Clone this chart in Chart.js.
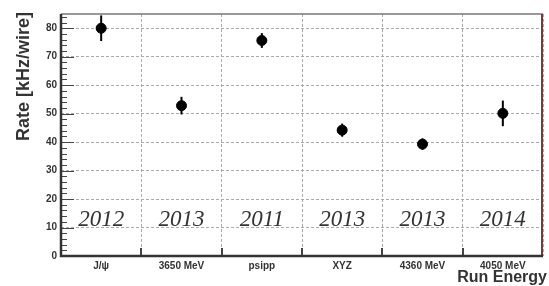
<!DOCTYPE html>
<html>
<head>
<meta charset="utf-8">
<script src="https://cdn.jsdelivr.net/npm/chart.js@4.4.0/dist/chart.umd.min.js"></script>
<style>
  html, body { margin: 0; padding: 0; background: #fff; }
  canvas { display: block; }
</style>
</head>
<body>
<canvas id="rateChart" width="549" height="286"></canvas>
<script>
// Run energies and measured rates
const runLabels = ['J/\u03c8', '3650 MeV', 'psipp', 'XYZ', '4360 MeV', '4050 MeV'];
const runYears = ['2012', '2013', '2011', '2013', '2013', '2014'];
const rates = [80, 52.8, 75.7, 44.2, 39.3, 50.1];
const rateErrors = [4.5, 3.1, 2.6, 2.3, 2.0, 4.5];
const yTicks = [0, 10, 20, 30, 40, 50, 60, 70, 80];

const TEXT = '#333';

// Frame, ROOT-style ticks, error bars and year labels
const rootStyle = {
    id: 'rootStyle',
    beforeDatasetsDraw(chart) {
        const { ctx, chartArea: a, scales: { x, y } } = chart;
        ctx.save();
        // error bars
        ctx.strokeStyle = '#000';
        ctx.lineWidth = 2;
        rates.forEach((v, i) => {
            const px = x.getPixelForValue(i);
            ctx.beginPath();
            ctx.moveTo(px, y.getPixelForValue(v - rateErrors[i]));
            ctx.lineTo(px, y.getPixelForValue(v + rateErrors[i]));
            ctx.stroke();
        });
        // year labels
        ctx.fillStyle = '#333';
        ctx.font = 'italic 23px "Liberation Serif", "DejaVu Serif", serif';
        ctx.textAlign = 'center';
        ctx.textBaseline = 'middle';
        runYears.forEach((yr, i) => {
            ctx.fillText(yr, x.getPixelForValue(i), y.getPixelForValue(12.8));
        });
        ctx.restore();
    },
    afterDraw(chart) {
        const { ctx, chartArea: a, scales: { x, y } } = chart;
        ctx.save();
        // y ticks, inside the frame
        ctx.strokeStyle = '#444';
        ctx.lineWidth = 1;
        for (let v = 0; v <= y.max; v += 2) {
            const py = Math.round(y.getPixelForValue(v)) + 0.5;
            const len = v % 10 === 0 ? 13 : 6;
            ctx.beginPath();
            ctx.moveTo(a.left, py);
            ctx.lineTo(a.left + len, py);
            ctx.stroke();
        }
        // x ticks at category edges
        ctx.lineWidth = 2;
        for (let i = 1; i < runLabels.length; i++) {
            const px = Math.round(x.getPixelForValue(i - 0.5));
            ctx.beginPath();
            ctx.moveTo(px, a.bottom);
            ctx.lineTo(px, a.bottom - 8);
            ctx.stroke();
        }
        // frame
        ctx.strokeStyle = '#777';
        ctx.lineWidth = 1.5;
        ctx.beginPath();
        ctx.moveTo(a.left, a.top);
        ctx.lineTo(a.right, a.top);
        ctx.stroke();
        ctx.strokeStyle = '#7a3a3a';
        ctx.lineWidth = 2;
        ctx.beginPath();
        ctx.moveTo(a.right - 1, a.top);
        ctx.lineTo(a.right - 1, a.bottom);
        ctx.stroke();
        ctx.strokeStyle = '#333';
        ctx.lineWidth = 2.5;
        ctx.beginPath();
        ctx.moveTo(a.left, a.top);
        ctx.lineTo(a.left, a.bottom);
        ctx.lineTo(a.right, a.bottom);
        ctx.stroke();
        // axis titles
        ctx.fillStyle = TEXT;
        ctx.font = 'bold 18px "Liberation Sans", Arial, sans-serif';
        ctx.textAlign = 'right';
        ctx.textBaseline = 'middle';
        ctx.save();
        ctx.translate(24, 12);
        ctx.rotate(-Math.PI / 2);
        ctx.fillText('Rate [kHz/wire]', 0, 0);
        ctx.restore();
        ctx.font = 'bold 16px "Liberation Sans", Arial, sans-serif';
        ctx.textBaseline = 'alphabetic';
        ctx.fillText('Run Energy', 547, 282);
        ctx.restore();
    }
};

document.addEventListener('DOMContentLoaded', () => {
    const ctx = document.getElementById('rateChart').getContext('2d');
    new Chart(ctx, {
        type: 'line',
        data: {
            labels: runLabels,
            datasets: [{
                label: 'Rate',
                data: rates,
                showLine: false,
                pointRadius: 5,
                pointHoverRadius: 5,
                pointBackgroundColor: '#000',
                pointBorderColor: '#000',
            }]
        },
        options: {
            responsive: false,
            animation: false,
            devicePixelRatio: 1,
            layout: { padding: { top: 14, right: 1, left: 0, bottom: 0 } },
            plugins: { legend: { display: false }, tooltip: { enabled: false } },
            scales: {
                x: {
                    type: 'category',
                    offset: true,
                    grid: {
                        offset: true,
                        drawTicks: false,
                        color: '#aaa',
                    },
                    border: { display: false, dash: [3, 2] },
                    ticks: {
                        padding: 4,
                        color: TEXT,
                        font: { family: '"Liberation Sans", Arial, sans-serif', size: 10, weight: 'bold' },
                        maxRotation: 0,
                    },
                    afterFit: (scale) => { scale.height = 30; }
                },
                y: {
                    min: 0,
                    max: 85,
                    afterBuildTicks: (scale) => { scale.ticks = yTicks.map(v => ({ value: v })); },
                    grid: {
                        drawTicks: false,
                        color: (c) => c.tick && c.tick.value === 0 ? 'rgba(0,0,0,0)' : '#aaa',
                    },
                    border: { display: false, dash: [3, 2] },
                    ticks: {
                        padding: 4,
                        color: TEXT,
                        font: { family: '"Liberation Sans", Arial, sans-serif', size: 10, weight: 'bold' },
                    },
                    afterFit: (scale) => { scale.width = 61; }
                }
            }
        },
        plugins: [rootStyle]
    });
});
</script>
</body>
</html>
